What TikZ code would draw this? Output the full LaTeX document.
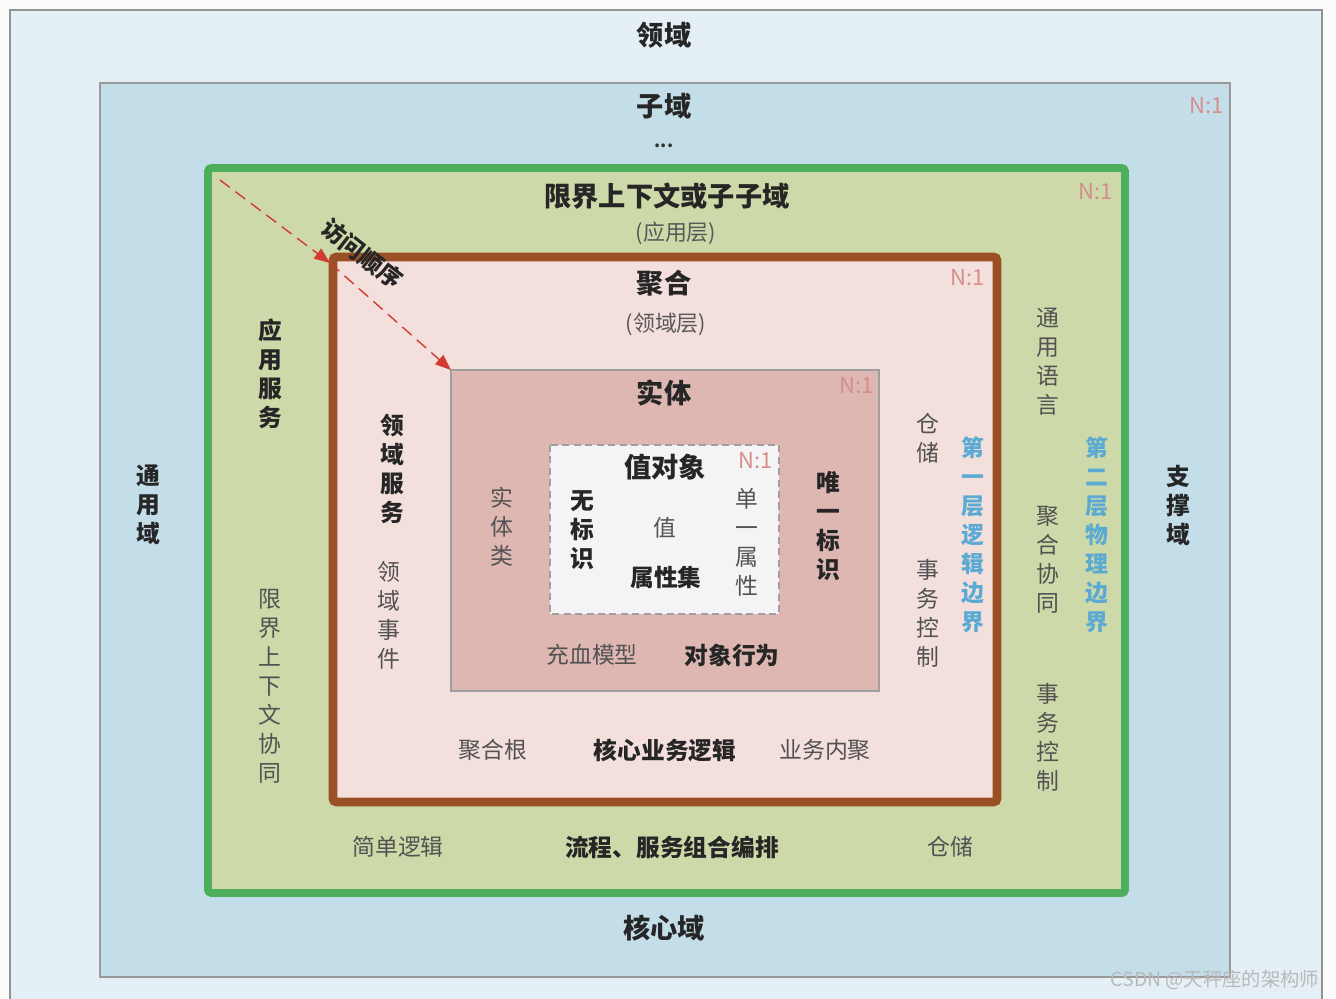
\documentclass[tikz,border=0pt]{standalone}
\usepackage{fontspec}
\setmainfont{Noto Sans CJK SC}
\usetikzlibrary{arrows.meta}

\definecolor{skyout}{HTML}{E4F0F5}
\definecolor{skysub}{HTML}{C3DEE9}
\definecolor{olive}{HTML}{CDD9A8}
\definecolor{gframe}{HTML}{4DAE5B}
\definecolor{bframe}{HTML}{9B4F25}
\definecolor{pinkin}{HTML}{F3DFDC}
\definecolor{entfill}{HTML}{DEB7B2}
\definecolor{vofill}{HTML}{F4F4F6}
\definecolor{ratiored}{HTML}{D58E8C}
\definecolor{bndblue}{HTML}{5BAAD3}
\definecolor{arrred}{HTML}{D23A32}

\tikzset{
  title/.style={font=\bfseries\fontsize{15.5}{18}\selectfont, text=black!85, inner sep=0pt},
  sub/.style={font=\fontsize{12.5}{15}\selectfont, text=black!65, inner sep=0pt},
  lbl/.style={font=\fontsize{13}{16.5}\selectfont, text=black!68, inner sep=0pt, align=center},
  blbl/.style={font=\bfseries\fontsize{13.5}{16.5}\selectfont, text=black!85, inner sep=0pt, align=center},
  bnd/.style={font=\bfseries\fontsize{13}{16.5}\selectfont, text=bndblue, inner sep=0pt, align=center},
  ratio/.style={font=\fontsize{12.5}{14}\selectfont, text=ratiored, inner sep=0pt},
  visit/.style={->, >={Triangle[length=9pt,width=7pt]}, arrred, dashed, dash pattern=on 7pt off 4pt, line width=0.8pt},
}

\begin{document}
\begin{tikzpicture}[x=0.02cm, y=-0.02cm]
  \useasboundingbox (0,0) rectangle (1336,998);
  \clip (0,0) rectangle (1336,998);
  \fill[white!97!gray] (0,0) rectangle (1336,998);

  % domain layers
  \draw[gray!85, fill=skyout, line width=1pt] (10,10) rectangle (1322,1010);
  \draw[gray!80, fill=skysub, line width=1pt] (100,83) rectangle (1230,977);
  \draw[gframe, fill=olive, line width=4.5pt, rounded corners=2pt] (208,168) rectangle (1125,893);
  \draw[bframe, fill=pinkin, line width=5pt, rounded corners=2pt] (333,257) rectangle (997,802);
  \draw[gray!75, fill=entfill, line width=1pt] (451,370) rectangle (879,691);
  \draw[gray!75, fill=vofill, line width=1pt, dashed, dash pattern=on 4pt off 2.5pt] (550,445) rectangle (779,614);

  % corners for the access order
  \coordinate (gnw) at (220,180);
  \coordinate (bnw) at (330,263);
  \coordinate (enw) at (451,370);
  \path[visit] (gnw) edge (bnw);
  \path[visit] (bnw) edge (enw);
  \node[blbl, rotate=-38] (visit) at (362,254) {访问顺序};

  % titles
  \node[title] (dom) at (664,35) {领域};
  \node[title] (subdom) at (664,106) {子域};
  \node[font=\bfseries\fontsize{10}{12}\selectfont, text=black!80, inner sep=0pt] (dots) at (664,146) {...};
  \node[ratio] (r1) at (1207,106) {N:1};
  \node[title] (bc) at (667,196) {限界上下文或子子域};
  \node[sub] (bcsub) at (676,233) {(应用层)};
  \node[ratio] (r2) at (1096,192) {N:1};
  \node[title] (agg) at (664,283) {聚合};
  \node[sub] (aggsub) at (666,324) {(领域层)};
  \node[ratio] (r3) at (968,278) {N:1};
  \node[title] (ent) at (664,393) {实体};
  \node[ratio] (r4) at (857,386) {N:1};
  \node[title] (vo) at (665,467) {值对象};
  \node[ratio] (r5) at (756,461) {N:1};
  \node[title] (core) at (664,928) {核心域};

  % value object
  \node[blbl] (noid) at (582,530) {无\\标\\识};
  \node[lbl] (val) at (665,528) {值};
  \node[blbl] (attrs) at (666,577) {属性集};
  \node[lbl] (single) at (747,542) {单\\一\\属\\性};

  % entity
  \node[lbl] (entcls) at (502,527) {实\\体\\类};
  \node[blbl] (uid) at (828,526) {唯\\一\\标\\识};
  \node[lbl] (rich) at (592,655) {充血模型};
  \node[blbl] (behav) at (732,655) {对象行为};

  % aggregate
  \node[blbl] (dsvc) at (392,469) {领\\域\\服\\务};
  \node[lbl] (devt) at (389,615) {领\\域\\事\\件};
  \node[lbl] (repo1) at (928,438) {仓\\储};
  \node[lbl] (tx1) at (928,613) {事\\务\\控\\制};
  \node[bnd] (bnd1) at (973,535) {第\\一\\层\\逻\\辑\\边\\界};
  \node[lbl] (aroot) at (493,750) {聚合根};
  \node[blbl] (corelogic) at (665,750) {核心业务逻辑};
  \node[lbl] (cohes) at (825,750) {业务内聚};

  % bounded context
  \node[blbl] (asvc) at (270,374) {应\\用\\服\\务};
  \node[lbl] (bccoop) at (270,686) {限\\界\\上\\下\\文\\协\\同};
  \node[lbl] (ulang) at (1048,362) {通\\用\\语\\言};
  \node[lbl] (aggcoop) at (1048,560) {聚\\合\\协\\同};
  \node[lbl] (tx2) at (1048,737) {事\\务\\控\\制};
  \node[bnd] (bnd2) at (1097,535) {第\\二\\层\\物\\理\\边\\界};
  \node[lbl] (simple) at (398,847) {简单逻辑};
  \node[blbl] (flow) at (672,847) {流程、服务组合编排};
  \node[lbl] (repo2) at (950,847) {仓储};

  % sub domains
  \node[blbl] (generic) at (148,505) {通\\用\\域};
  \node[blbl] (support) at (1178,505) {支\\撑\\域};

  \node[font=\fontsize{11}{13}\selectfont, text=gray!55, inner sep=0pt] (mark) at (1215,980) {CSDN @天秤座的架构师};
\end{tikzpicture}
\end{document}
